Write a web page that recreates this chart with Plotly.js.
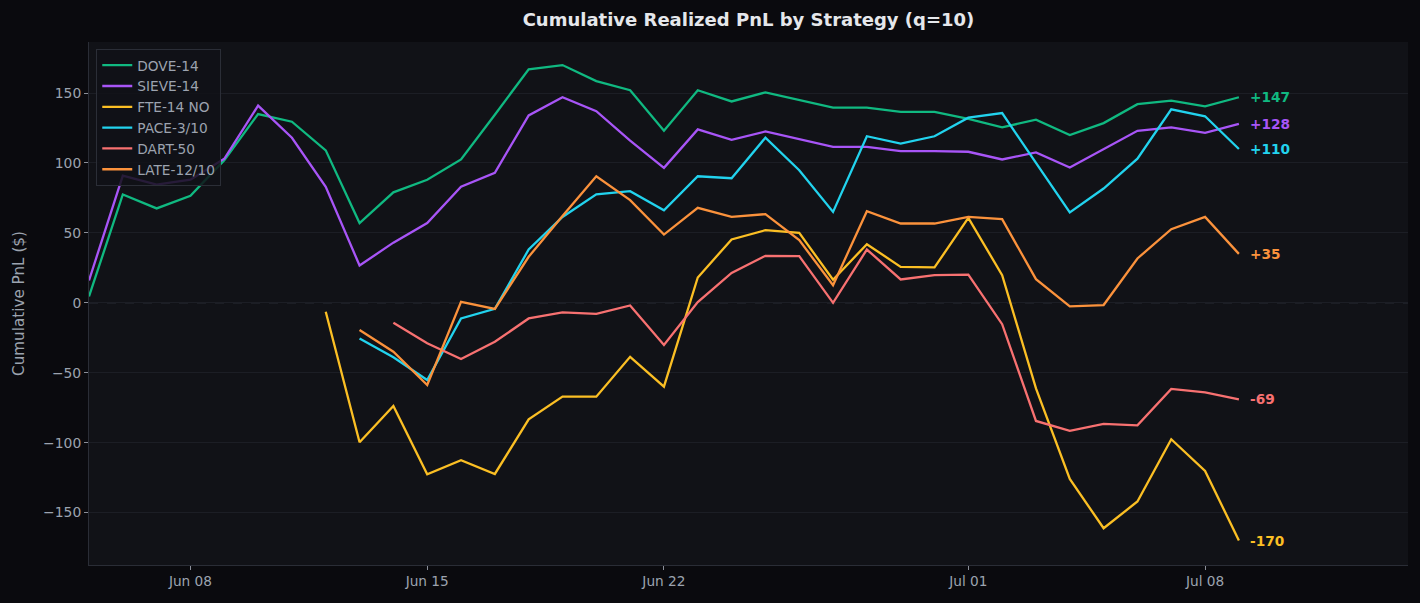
<!DOCTYPE html>
<html>
<head>
<meta charset="utf-8">
<script src="https://cdn.plot.ly/plotly-3.0.1.min.js"></script>
<style>
  html, body { margin: 0; padding: 0; background: #0a0a0e; }
  #chart { width: 1420px; height: 603px; }
</style>
</head>
<body>
<div id="chart"></div>
<script>
// Dates: Jun 05 .. Jul 09
const dates = [
  '2025-06-05','2025-06-06','2025-06-07','2025-06-08','2025-06-09','2025-06-10','2025-06-11',
  '2025-06-12','2025-06-13','2025-06-14','2025-06-15','2025-06-16','2025-06-17','2025-06-18',
  '2025-06-19','2025-06-20','2025-06-21','2025-06-22','2025-06-23','2025-06-24','2025-06-25',
  '2025-06-26','2025-06-27','2025-06-28','2025-06-29','2025-06-30','2025-07-01','2025-07-02',
  '2025-07-03','2025-07-04','2025-07-05','2025-07-06','2025-07-07','2025-07-08','2025-07-09'
];

const seriesNames = ['DOVE-14', 'SIEVE-14', 'FTE-14 NO', 'PACE-3/10', 'DART-50', 'LATE-12/10'];
const seriesColors = ['#10b981', '#a855f7', '#fbbf24', '#22d3ee', '#f87171', '#fb923c'];

const dove14 = [4.5, 77.5, 67.5, 76.5, 102, 135, 129.5, 109, 57, 79, 88, 102.5, 134.5, 167, 170,
  158.5, 152, 123, 152, 144, 150.5, 145, 139.5, 139.5, 136.5, 136.5, 131.5, 125.5, 131, 120,
  128.5, 142, 144.5, 140.5, 147];
const sieve14 = [16, 91, 84.5, 88, 103, 141, 118, 83, 26.7, 43, 57, 83, 93, 134, 147,
  137, 116, 96.5, 124, 116.5, 122.5, 117, 111.5, 111.5, 108.5, 108.5, 108, 102.5, 107.5, 96.7,
  110, 123, 125.5, 121.5, 128];
const fte14no = [null, null, null, null, null, null, null, -6.4, -99.7, -73.8, -122.6, -112.6, -122.4, -83.3, -67.1,
  -67.1, -38.6, -60, 18.1, 45.3, 51.9, 50, 16.5, 41.9, 25.7, 25.3, 60.7, 19.8, -61.2, -126,
  -161.2, -142.1, -97.6, -120.2, -170];
const pace310 = [null, null, null, null, null, null, null, null, -25.5, -39, -55.2, -11.2, -4.3, 38.1, 61.4,
  77.6, 79.8, 66.2, 90.5, 89.1, 118.1, 94.8, 65, 119.1, 113.9, 119.1, 132.4, 135.7, 100, 64.6,
  81.7, 103.1, 138.4, 133.4, 110];
const dart50 = [null, null, null, null, null, null, null, null, null, -14.3, -29, -40.2, -27.9, -11.2, -6.9,
  -7.9, -1.9, -30.2, 0.5, 21.4, 33.6, 33.4, 0, 38.1, 16.7, 19.8, 20.2, -15.3, -84.5, -91.6,
  -86.6, -87.6, -61.6, -64, -69];
const late1210 = [null, null, null, null, null, null, null, null, -19.5, -35, -58.8, 0.7, -4.4, 32.9, 62,
  90.5, 73.4, 48.8, 67.9, 61.4, 63.4, 44.8, 12.6, 65.5, 56.7, 56.7, 61.4, 59.8, 16.9, -2.6,
  -1.6, 31.7, 52.6, 61.4, 35];

const seriesValues = [dove14, sieve14, fte14no, pace310, dart50, late1210];

const xTickVals = ['2025-06-08', '2025-06-15', '2025-06-22', '2025-07-01', '2025-07-08'];
const xTickText = ['Jun 08', 'Jun 15', 'Jun 22', 'Jul 01', 'Jul 08'];
const yTickVals = [-150, -100, -50, 0, 50, 100, 150];

const FONT = 'DejaVu Sans, sans-serif';
const TXT = '#9ca3af';

const traces = seriesNames.map((name, i) => ({
  type: 'scatter',
  mode: 'lines',
  name: name,
  x: dates,
  y: seriesValues[i],
  line: { color: seriesColors[i], width: 2.3 },
  connectgaps: false,
  hoverinfo: 'skip'
}));

function fmt(v) {
  const r = Math.round(v);
  return (r >= 0 ? '+' : '-') + Math.abs(r);
}

const annotations = seriesNames.map((name, i) => {
  const vals = seriesValues[i];
  const last = vals[vals.length - 1];
  return {
    x: dates[dates.length - 1],
    y: last,
    xref: 'x', yref: 'y',
    text: fmt(last),
    showarrow: false,
    xanchor: 'left',
    yanchor: 'middle',
    xshift: 9,
    font: { family: FONT, size: 13.7, color: seriesColors[i], weight: 'bold' }
  };
});

const layout = {
  width: 1420,
  height: 603,
  paper_bgcolor: '#0a0a0e',
  plot_bgcolor: '#111217',
  margin: { l: 89, r: 12, t: 42, b: 38, pad: 0 },
  showlegend: true,
  title: {
    text: 'Cumulative Realized PnL by Strategy (q=10)',
    font: { family: FONT, size: 18, color: '#e5e7eb', weight: 'bold' },
    x: 0.5, xref: 'paper', xanchor: 'center',
    y: 0.968, yref: 'container', yanchor: 'middle'
  },
  xaxis: {
    type: 'date',
    range: ['2025-06-05', '2025-07-14'],
    tickmode: 'array',
    tickvals: xTickVals,
    ticktext: xTickText,
    showgrid: false,
    zeroline: false,
    showline: true,
    linecolor: '#2a2d36',
    linewidth: 1,
    ticks: 'outside',
    ticklen: 4,
    tickwidth: 1,
    tickcolor: '#8b8f99',
    tickfont: { family: FONT, size: 13.7, color: TXT },
    mirror: false
  },
  yaxis: {
    range: [-187.5, 186.5],
    tickmode: 'array',
    tickvals: yTickVals,
    showgrid: true,
    gridcolor: '#1c1e25',
    gridwidth: 1,
    zeroline: false,
    showline: true,
    linecolor: '#2a2d36',
    linewidth: 1,
    ticks: 'outside',
    ticklen: 4,
    tickwidth: 1,
    tickcolor: '#8b8f99',
    tickfont: { family: FONT, size: 13.9, color: TXT },
    title: {
      text: 'Cumulative PnL ($)',
      font: { family: FONT, size: 15.2, color: TXT },
      standoff: 14
    },
    automargin: false
  },
  shapes: [{
    type: 'line',
    xref: 'paper', x0: 0, x1: 1,
    yref: 'y', y0: 0, y1: 0,
    line: { color: '#3a3d48', width: 1, dash: 'dash' },
    layer: 'below'
  }],
  legend: {
    x: 0.0055, y: 0.987,
    xanchor: 'left', yanchor: 'top',
    bgcolor: 'rgba(17,18,23,0.85)',
    bordercolor: '#2b2e37',
    borderwidth: 1,
    font: { family: FONT, size: 13.7, color: TXT },
    itemwidth: 30,
    tracegroupgap: 0
  },
  annotations: annotations
};

Plotly.newPlot('chart', traces, layout, { displayModeBar: false, staticPlot: true });
</script>
</body>
</html>
